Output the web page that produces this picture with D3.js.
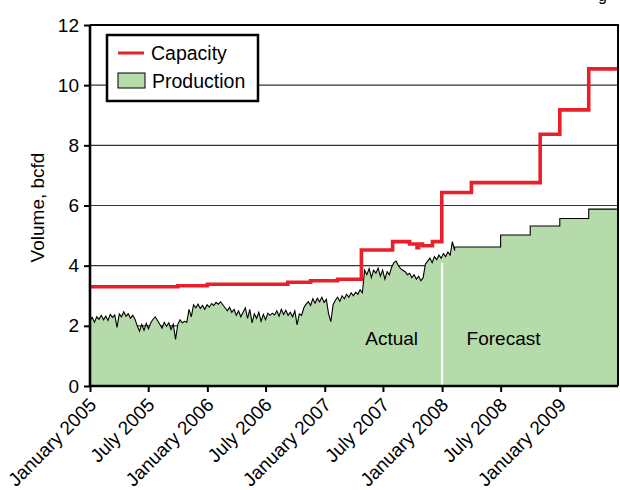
<!DOCTYPE html>
<html>
<head>
<meta charset="utf-8">
<script src="https://cdn.jsdelivr.net/npm/d3@7"></script>
<style>
  body { margin: 0; background: #fff; }
  svg { display: block; font-family: "Liberation Sans", Arial, sans-serif; }
</style>
</head>
<body>
<svg id="chart" width="620" height="490"></svg>
<script>
// weekly actual production, bcfd (from 2005-01-01, one value per week)
var actualStart = "2005-01-01";
var actualValues = [
  2.18, 2.28, 2.12, 2.3, 2.22, 2.35, 2.2, 2.32, 2.18, 2.38, 2.28, 2.36, 1.95,
  2.4, 2.3, 2.47, 2.32, 2.4, 2.25, 2.35, 2.22,
  2.0, 1.82, 2.05, 1.85, 2.08, 1.9, 2.1, 2.22, 2.3, 2.18, 2.05, 1.92, 2.12, 1.98, 2.1, 1.88, 2.05, 1.55,
  2.05, 2.2, 2.1, 2.15, 2.12, 2.55, 2.3, 2.7, 2.6, 2.72, 2.58, 2.68, 2.55, 2.7, 2.62, 2.74, 2.68, 2.78,
  2.72, 2.8, 2.7, 2.6, 2.5, 2.62, 2.45, 2.55, 2.35, 2.5, 2.3, 2.45, 2.6, 2.25, 2.55, 2.1, 2.4, 2.25,
  2.45, 2.15, 2.38, 2.2, 2.42, 2.35, 2.42, 2.36, 2.5, 2.32, 2.55, 2.38, 2.52, 2.35, 2.45, 2.3, 2.5,
  2.03, 2.4, 2.35, 2.6, 2.72, 2.8, 2.68, 2.9, 2.75, 2.92, 2.8, 2.95, 2.78, 2.88, 2.4, 2.14, 2.7, 2.85,
  2.95, 2.82, 3.0, 2.9, 3.05, 2.95, 3.1, 3.0, 3.12, 3.05, 3.2, 3.1, 3.85, 3.7, 3.9, 3.6, 3.85, 3.75,
  3.92, 3.65, 3.85, 3.55, 3.8, 3.7, 3.95, 4.1, 4.15, 4.0, 3.9, 3.85, 3.8, 3.7, 3.75, 3.6, 3.7, 3.55,
  3.65, 3.5, 3.6, 4.05, 4.15, 4.25, 4.1, 4.3, 4.2, 4.35, 4.25, 4.4, 4.3, 4.45, 4.35, 4.8, 4.5
];

// forecast production steps
var forecastDates = ["2008-02-09", "2008-07-01", "2008-10-01", "2009-01-01", "2009-04-01", "2009-07-01"];
var forecastValues = [4.62, 5.02, 5.32, 5.57, 5.88, 5.88];

// pipeline capacity steps
var capacityDates = ["2005-01-01", "2005-10-01", "2006-01-01", "2006-09-08", "2006-11-18", "2007-02-10",
  "2007-04-25", "2007-07-31", "2007-09-22", "2007-10-15", "2007-10-20", "2007-11-01", "2007-12-02",
  "2007-12-31", "2008-04-01", "2008-11-01", "2009-01-01", "2009-04-01", "2009-07-01"];
var capacityValues = [3.3, 3.33, 3.38, 3.45, 3.5, 3.55, 4.52, 4.8, 4.72, 4.6, 4.72, 4.66, 4.8,
  6.43, 6.76, 8.37, 9.18, 10.54, 10.54];

var xTickDates = ["2005-01-01", "2005-07-01", "2006-01-01", "2006-07-01", "2007-01-01",
  "2007-07-01", "2008-01-01", "2008-07-01", "2009-01-01"];
var xTickLabels = ["January 2005", "July 2005", "January 2006", "July 2006", "January 2007",
  "July 2007", "January 2008", "July 2008", "January 2009"];
var yTicks = [0, 2, 4, 6, 8, 10, 12];
var gridValues = [2, 4, 6, 8, 10];
var dividerDate = "2008-01-01";

var parse = d3.timeParse("%Y-%m-%d");
var red = "#e8202a", green = "#b6dbaa";

var svg = d3.select("#chart"),
  margin = {top: 25, right: 2, bottom: 104, left: 90},
  width = +svg.attr("width") - margin.left - margin.right,
  height = +svg.attr("height") - margin.top - margin.bottom,
  g = svg.append("g").attr("transform", "translate(" + margin.left + "," + margin.top + ")");

var x = d3.scaleTime()
  .domain([parse("2005-01-01"), parse("2009-07-01")])
  .range([0, width]);

var y = d3.scaleLinear()
  .domain([0, 12])
  .range([height, 0]);

var start = parse(actualStart);
var actual = actualValues.map(function(v, i) { return {date: d3.timeDay.offset(start, 7 * i), value: v}; });
var forecast = forecastDates.map(function(d, i) { return {date: parse(d), value: forecastValues[i]}; });
var capacity = capacityDates.map(function(d, i) { return {date: parse(d), value: capacityValues[i]}; });

// forecast steps expanded so actual + forecast can share one path
var forecastSteps = [];
forecast.forEach(function(d, i) {
  if (i > 0) forecastSteps.push({date: d.date, value: forecast[i - 1].value});
  forecastSteps.push(d);
});
var production = actual.concat(forecastSteps);

// grid
g.append("g")
  .selectAll("line")
  .data(gridValues)
  .enter().append("line")
    .attr("x1", 0)
    .attr("x2", width)
    .attr("y1", function(d) { return y(d); })
    .attr("y2", function(d) { return y(d); })
    .attr("stroke", "#333")
    .attr("stroke-width", 1.2);

// production area + line
var area = d3.area()
  .x(function(d) { return x(d.date); })
  .y0(height)
  .y1(function(d) { return y(d.value); });
var line = d3.line()
  .x(function(d) { return x(d.date); })
  .y(function(d) { return y(d.value); });
var lineStep = d3.line()
  .curve(d3.curveStepAfter)
  .x(function(d) { return x(d.date); })
  .y(function(d) { return y(d.value); });

g.append("path").datum(production)
  .attr("d", area).attr("fill", green);

g.append("path").datum(production)
  .attr("d", line)
  .attr("fill", "none")
  .attr("stroke", "#000")
  .attr("stroke-width", 1.1);

// actual / forecast divider
g.append("line")
  .attr("x1", x(parse(dividerDate)))
  .attr("x2", x(parse(dividerDate)))
  .attr("y1", y(4.1))
  .attr("y2", height)
  .attr("stroke", "#fff")
  .attr("stroke-width", 2.2);

// capacity
g.append("path").datum(capacity)
  .attr("d", lineStep)
  .attr("fill", "none")
  .attr("stroke", red)
  .attr("stroke-width", 3.6);

// frame top/right
g.append("path")
  .attr("d", "M0,0H" + width + "V" + height)
  .attr("fill", "none")
  .attr("stroke", "#000")
  .attr("stroke-width", 2);

// axes
var yAxis = g.append("g")
  .call(d3.axisLeft(y).tickValues(yTicks).tickSize(6).tickPadding(5));
var xAxis = g.append("g")
  .attr("transform", "translate(0," + height + ")")
  .call(d3.axisBottom(x).tickValues(xTickDates.map(parse)).tickSize(6).tickFormat(function(d, i) { return xTickLabels[i]; }));

[yAxis, xAxis].forEach(function(a) {
  a.select(".domain").attr("stroke-width", 2.6).attr("stroke", "#000");
  a.selectAll(".tick line").attr("stroke-width", 2).attr("stroke", "#000");
  a.selectAll("text").attr("font-size", 19).attr("fill", "#000").attr("font-family", "Liberation Sans, Arial, sans-serif");
});
yAxis.select(".domain").attr("d", "M0," + height + "V0");
xAxis.select(".domain").attr("d", "M0,0H" + width);

xAxis.selectAll("text")
  .attr("text-anchor", "end")
  .attr("font-size", 19)
  .attr("dy", null)
  .attr("y", null)
  .attr("transform", "translate(7,20) rotate(-45)");

// y label
svg.append("text")
  .attr("transform", "translate(44," + (margin.top + height / 2 + 2) + ") rotate(-90)")
  .attr("text-anchor", "middle")
  .attr("font-size", 19)
  .text("Volume, bcfd");

// annotations
g.append("text")
  .attr("x", x(parse("2007-07-28")))
  .attr("y", y(1.35))
  .attr("text-anchor", "middle")
  .attr("font-size", 19)
  .text("Actual");
g.append("text")
  .attr("x", x(parse("2008-07-10")))
  .attr("y", y(1.35))
  .attr("text-anchor", "middle")
  .attr("font-size", 19)
  .text("Forecast");

// legend
var legend = g.append("g").attr("transform", "translate(17,10)");
legend.append("rect")
  .attr("width", 151)
  .attr("height", 66)
  .attr("fill", "#fff")
  .attr("stroke", "#000")
  .attr("stroke-width", 2.5);
legend.append("line")
  .attr("x1", 11).attr("x2", 37)
  .attr("y1", 18).attr("y2", 18)
  .attr("stroke", red)
  .attr("stroke-width", 3);
legend.append("text")
  .attr("x", 44).attr("y", 25)
  .attr("font-size", 19.5)
  .text("Capacity");
legend.append("rect")
  .attr("x", 11).attr("y", 38)
  .attr("width", 27).attr("height", 15)
  .attr("fill", green)
  .attr("stroke", "#000")
  .attr("stroke-width", 1);
legend.append("text")
  .attr("x", 45).attr("y", 53)
  .attr("font-size", 19.5)
  .text("Production");

// cut-off caption fragment at top right
svg.append("text")
  .attr("x", 598)
  .attr("y", 1)
  .attr("font-size", 16)
  .text("g");
</script>
</body>
</html>
